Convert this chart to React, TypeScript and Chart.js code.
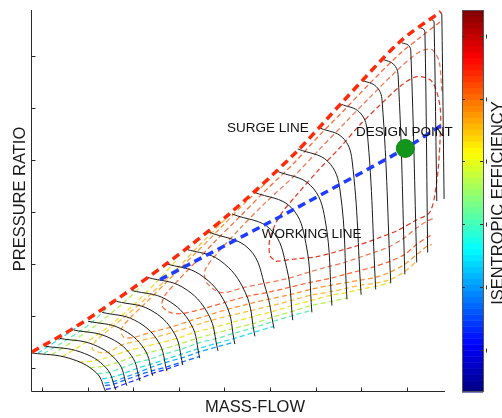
import React, { useEffect, useRef } from "react";
import { Chart, registerables } from "chart.js";

Chart.register(...registerables);

// ---------- axes ----------
const massFlowTicks = [1, 2, 3, 4, 5, 6, 7, 8, 9];
const pressureRatioTicks = [2, 3, 4, 5, 6, 7, 8];
const massFlowRange = [0.78, 9.84];
const pressureRatioRange = [1.54, 8.88];
const efficiencyTicks = [0.3, 0.4, 0.5, 0.6, 0.7, 0.8];
const efficiencyRange = [0.233, 0.841];

// ---------- main lines ----------
const surgeLine = [[0.78, 2.31], [1.68, 2.76], [2.64, 3.32], [3.74, 4.01], [5.08, 4.94], [6.53, 6.11], [7.6, 7.12], [8.85, 8.27], [9.75, 8.85]];
const workingLine = [[3.59, 3.7], [6.59, 5.08], [8.97, 6.22], [9.77, 6.67]];
const designPoint = [[8.97, 6.22]];

// ---------- speed lines ----------
const speedLines = [
  [[0.78, 2.29], [1.59, 2.19], [2.19, 1.91], [2.4, 1.54]],
  [[1.07, 2.42], [1.84, 2.31], [2.41, 2.0], [2.62, 1.58]],
  [[1.39, 2.57], [2.13, 2.45], [2.67, 2.11], [2.86, 1.66]],
  [[1.7, 2.73], [2.43, 2.6], [2.96, 2.24], [3.15, 1.75]],
  [[2.01, 2.9], [2.72, 2.76], [3.24, 2.37], [3.43, 1.85]],
  [[2.32, 3.07], [3.03, 2.92], [3.55, 2.51], [3.74, 1.94]],
  [[2.64, 3.28], [3.37, 3.12], [3.9, 2.67], [4.09, 2.06]],
  [[2.97, 3.49], [3.72, 3.32], [4.27, 2.84], [4.46, 2.19]],
  [[3.32, 3.74], [4.09, 3.55], [4.65, 3.03], [4.86, 2.33]],
  [[3.7, 4.01], [4.46, 3.8], [5.03, 3.23], [5.23, 2.46]],
  [[4.14, 4.29], [4.9, 4.07], [5.46, 3.45], [5.67, 2.61]],
  [[4.64, 4.62], [5.54, 4.29], [5.91, 3.51], [6.09, 2.76]],
  [[5.17, 4.96], [6.02, 4.66], [6.37, 3.91], [6.5, 2.92]],
  [[5.65, 5.38], [6.46, 5.09], [6.79, 4.39], [6.92, 3.07]],
  [[6.13, 5.79], [6.89, 5.51], [7.21, 4.85], [7.36, 3.2]],
  [[6.61, 6.21], [7.27, 5.97], [7.54, 5.4], [7.69, 3.32]],
  [[7.1, 6.61], [7.59, 6.43], [7.8, 6.0], [8.0, 3.41]],
  [[7.56, 7.07], [7.96, 6.92], [8.13, 6.57], [8.32, 3.51]],
  [[8.02, 7.53], [8.33, 7.41], [8.46, 7.14], [8.65, 3.63]],
  [[8.48, 7.93], [8.71, 7.84], [8.81, 7.64], [8.96, 3.8]],
  [[8.89, 8.25], [9.04, 8.2], [9.09, 8.08], [9.22, 4.03]],
  [[9.29, 8.54], [9.37, 8.51], [9.4, 8.44], [9.46, 4.22]],
  [[9.55, 8.69], [9.58, 8.68], [9.6, 8.65], [9.66, 5.21]],
  [[9.75, 8.83], [9.76, 8.82], [9.77, 8.8], [9.82, 5.25]],
];

// ---------- isentropic efficiency contours ----------
const effBlue = [[2.4, 1.59], [2.62, 1.63], [2.86, 1.71], [3.15, 1.8], [3.43, 1.9], [3.74, 1.98], [4.09, 2.09]];
const effBlue2 = [[2.38, 1.66], [2.6, 1.7], [2.85, 1.78], [3.14, 1.87], [3.42, 1.95], [3.73, 2.02], [4.08, 2.12], [4.45, 2.22]];
const effAzure = [[2.37, 1.71], [2.6, 1.75], [2.84, 1.83], [3.13, 1.92], [3.41, 2.02], [3.72, 2.11], [4.08, 2.2], [4.45, 2.31], [4.85, 2.41], [5.22, 2.5]];
const effCyanLow = [[2.32, 1.79], [2.56, 1.83], [2.81, 1.9], [3.11, 2.0], [3.41, 2.08], [3.72, 2.17], [4.07, 2.27], [4.45, 2.38], [4.85, 2.48], [5.22, 2.57], [5.66, 2.69], [6.08, 2.8]];
const effCyanHigh = [[0.91, 2.29], [1.39, 2.56], [1.83, 2.83]];
const effAquaLow = [[2.22, 1.89], [2.49, 1.92], [2.75, 2.0], [3.05, 2.1], [3.36, 2.17], [3.68, 2.27], [4.05, 2.36], [4.43, 2.48], [4.84, 2.57], [5.22, 2.67], [5.66, 2.78], [6.08, 2.9], [6.5, 3.01], [6.92, 3.11]];
const effAquaHigh = [[1.04, 2.28], [1.5, 2.52], [2.01, 2.82], [2.45, 3.17]];
const effLimeLow = [[2.05, 2.0], [2.37, 2.04], [2.67, 2.11], [2.98, 2.21], [3.3, 2.29], [3.64, 2.36], [4.01, 2.46], [4.4, 2.57], [4.8, 2.67], [5.2, 2.76], [5.65, 2.86], [6.07, 2.98], [6.49, 3.09], [6.91, 3.2], [7.35, 3.28], [7.69, 3.35]];
const effLimeHigh = [[1.22, 2.26], [1.72, 2.54], [2.27, 2.88], [2.82, 3.28], [3.19, 3.59]];
const effYellowLow = [[1.81, 2.11], [2.21, 2.15], [2.54, 2.23], [2.87, 2.33], [3.21, 2.4], [3.57, 2.48], [3.96, 2.57], [4.36, 2.69], [4.77, 2.78], [5.18, 2.88], [5.64, 2.99], [6.07, 3.09], [6.49, 3.2], [6.91, 3.3], [7.35, 3.4], [7.68, 3.45], [7.98, 3.51], [8.31, 3.57], [8.65, 3.64]];
const effYellowHigh = [[1.44, 2.22], [1.94, 2.48], [2.49, 2.82], [3.04, 3.24], [3.54, 3.68], [3.98, 4.1]];
const effLightOrange = [[5.01, 4.85], [4.46, 4.37], [3.92, 3.87], [3.37, 3.41], [2.82, 2.99], [2.43, 2.71], [2.16, 2.5], [2.1, 2.38], [2.21, 2.31], [2.45, 2.3], [2.73, 2.44], [3.11, 2.52], [3.48, 2.59], [3.88, 2.69], [4.29, 2.8], [4.72, 2.92], [5.13, 3.01], [5.61, 3.11], [6.04, 3.2], [6.48, 3.3], [6.9, 3.4], [7.34, 3.47], [7.67, 3.53], [7.97, 3.59], [8.3, 3.63], [8.63, 3.7], [8.95, 3.85], [9.22, 4.05]];
const effOrange = [[6.0, 5.63], [5.45, 5.17], [4.9, 4.68], [4.36, 4.2], [3.81, 3.72], [3.26, 3.24], [2.93, 2.96], [2.73, 2.73], [2.8, 2.59], [3.02, 2.59], [3.39, 2.69], [3.81, 2.78], [4.22, 2.9], [4.66, 3.02], [5.08, 3.13], [5.56, 3.24], [5.96, 3.32], [6.44, 3.41], [6.88, 3.51], [7.32, 3.59], [7.67, 3.64], [7.97, 3.69], [8.3, 3.74], [8.63, 3.84], [8.95, 3.99], [9.22, 4.18], [9.46, 4.35], [9.55, 4.37]];
const effOrangeRed = [[9.73, 8.65], [9.29, 8.35], [8.85, 8.04], [8.19, 7.47], [7.6, 6.93], [7.05, 6.44], [6.53, 5.94], [5.89, 5.4], [5.34, 4.91], [4.79, 4.43], [4.36, 4.03], [3.98, 3.68], [3.7, 3.4], [3.63, 3.2], [3.81, 3.07], [4.09, 3.05], [4.57, 3.15], [5.01, 3.26], [5.5, 3.38], [5.93, 3.45], [6.42, 3.55], [6.86, 3.64], [7.31, 3.72], [7.65, 3.8], [7.96, 3.87], [8.3, 3.95], [8.63, 4.05], [8.95, 4.18], [9.21, 4.37], [9.46, 4.52], [9.57, 4.56]];
const effSalmon = [[9.77, 7.32], [9.71, 7.89], [9.55, 8.12], [9.29, 8.08], [8.85, 7.77], [8.19, 7.2], [7.6, 6.67], [7.05, 6.17], [6.53, 5.69], [5.89, 5.17], [5.34, 4.68], [4.86, 4.22], [4.57, 3.87], [4.62, 3.63], [4.93, 3.45], [5.43, 3.55], [5.89, 3.63], [6.39, 3.72], [6.84, 3.84], [7.29, 3.95], [7.64, 4.03], [7.94, 4.12], [8.28, 4.22], [8.61, 4.33], [8.93, 4.49], [9.2, 4.68], [9.46, 4.83], [9.57, 4.87]];
const effRed = [[6.13, 4.05], [6.59, 4.1], [7.03, 4.14], [7.47, 4.24], [7.91, 4.35], [8.35, 4.49], [8.79, 4.64], [9.18, 4.83], [9.51, 5.0], [9.66, 5.59], [9.73, 6.36], [9.73, 7.03], [9.55, 7.51], [9.22, 7.6], [8.85, 7.41], [8.41, 7.05], [7.97, 6.67], [7.54, 6.24], [7.05, 5.79], [6.57, 5.31], [6.22, 4.93], [6.0, 4.49], [6.0, 4.16], [6.13, 4.05]];

const contours = [effBlue, effBlue2, effAzure, effCyanLow, effCyanHigh, effAquaLow, effAquaHigh, effLimeLow, effLimeHigh, effYellowLow, effYellowHigh, effLightOrange, effOrange, effOrangeRed, effSalmon, effRed];
const contourColors = ["#1a2cff", "#0a64ff", "#10a4ff", "#20dcf0", "#20dcf0", "#5cf0b4", "#5cf0b4", "#b4f050", "#b4f050", "#f4e024", "#f4e024", "#ffbc3a", "#ff922e", "#ff6434", "#f27858", "#e03c28"];

// ---------- annotations ----------
const labelTexts = ["SURGE LINE", "DESIGN POINT", "WORKING LINE"];
const labelX = [5.06, 7.89, 5.82];
const labelY = [6.53, 6.46, 4.49];

const FONT = '"Liberation Sans", Arial, Helvetica, sans-serif';
const toXY = (arr: number[][]) => arr.map(([x, y]) => ({ x, y }));

const jet = (v: number) => {
  const c = (t: number) => Math.round(255 * Math.max(0, Math.min(1, 1.5 - Math.abs(4 * v - t))));
  return `rgb(${c(3)},${c(2)},${c(1)})`;
};

const overlay = {
  id: "overlay",
  afterDraw(chart: any) {
    const { ctx, chartArea: ca, scales } = chart;
    const xs = scales.x;
    const ys = scales.y;
    ctx.save();
    // axes
    ctx.strokeStyle = "#2a2a2a";
    ctx.lineWidth = 1;
    ctx.setLineDash([]);
    ctx.beginPath();
    ctx.moveTo(ca.left - 0.5, ca.top);
    ctx.lineTo(ca.left - 0.5, ca.bottom - 0.5);
    ctx.lineTo(ca.right, ca.bottom - 0.5);
    for (const v of massFlowTicks) {
      const px = Math.round(xs.getPixelForValue(v)) + 0.5;
      ctx.moveTo(px, ca.bottom - 0.5);
      ctx.lineTo(px, ca.bottom - 4.5);
    }
    for (const v of pressureRatioTicks) {
      const py = Math.round(ys.getPixelForValue(v)) + 0.5;
      ctx.moveTo(ca.left - 0.5, py);
      ctx.lineTo(ca.left + 3.5, py);
    }
    ctx.stroke();

    // annotations
    ctx.fillStyle = "#111";
    ctx.font = `13.5px ${FONT}`;
    ctx.textAlign = "left";
    ctx.textBaseline = "alphabetic";
    labelTexts.forEach((t, i) => {
      ctx.fillText(t, xs.getPixelForValue(labelX[i]), ys.getPixelForValue(labelY[i]));
    });

    // axis titles
    ctx.fillStyle = "#1a1a1a";
    ctx.font = `16.5px ${FONT}`;
    ctx.textAlign = "center";
    ctx.fillText("MASS-FLOW", 255, 411.5);
    ctx.save();
    ctx.translate(25, 199);
    ctx.rotate(-Math.PI / 2);
    ctx.fillText("PRESSURE RATIO", 0, 0);
    ctx.restore();

    // colorbar
    const cbL = 462, cbR = 483, cbT = ca.top, cbB = ca.bottom;
    const n = 64;
    const h = (cbB - cbT) / n;
    for (let i = 0; i < n; i++) {
      ctx.fillStyle = jet((i + 0.5) / n);
      ctx.fillRect(cbL, cbB - (i + 1) * h, cbR - cbL, h + 0.5);
    }
    ctx.strokeStyle = "#555";
    ctx.strokeRect(cbL + 0.5, cbT + 0.5, cbR - cbL, cbB - cbT - 1);
    ctx.beginPath();
    ctx.strokeStyle = "#333";
    for (const v of efficiencyTicks) {
      const py = Math.round(cbB - ((v - efficiencyRange[0]) / (efficiencyRange[1] - efficiencyRange[0])) * (cbB - cbT)) + 0.5;
      ctx.moveTo(cbL, py);
      ctx.lineTo(cbL + 3, py);
      ctx.moveTo(cbR, py);
      ctx.lineTo(cbR - 3, py);
      ctx.moveTo(486.5, py - 2);
      ctx.lineTo(486.5, py + 2);
    }
    ctx.stroke();

    ctx.fillStyle = "#1a1a1a";
    ctx.font = `16.5px ${FONT}`;
    ctx.textAlign = "center";
    ctx.save();
    ctx.translate(503, 203);
    ctx.rotate(-Math.PI / 2);
    ctx.fillText("ISENTROPIC EFFICIENCY", 0, 0);
    ctx.restore();

    ctx.restore();
  },
};

export default function App() {
  const ref = useRef<HTMLCanvasElement>(null);
  useEffect(() => {
    const datasets: any[] = [];
    contours.forEach((c, i) => {
      datasets.push({
        data: toXY(c),
        showLine: true,
        borderColor: contourColors[i],
        borderWidth: 1.25,
        borderDash: [5, 3],
        pointRadius: 0,
        tension: 0.3,
        fill: false,
        order: 3,
      });
    });
    speedLines.forEach((s) => {
      datasets.push({
        data: toXY(s),
        showLine: true,
        borderColor: "#1c1c1c",
        borderWidth: 1,
        pointRadius: 0,
        tension: 0.4,
        fill: false,
        order: 2,
      });
    });
    datasets.push({
      data: toXY(surgeLine),
      showLine: true,
      borderColor: "#ff2a0a",
      borderWidth: 3.5,
      borderDash: [8, 5],
      pointRadius: 0,
      tension: 0.3,
      fill: false,
      order: 1,
    });
    datasets.push({
      data: toXY(workingLine),
      showLine: true,
      borderColor: "#1f3cff",
      borderWidth: 3.5,
      borderDash: [8, 5],
      pointRadius: 0,
      tension: 0.2,
      fill: false,
      order: 1,
    });
    datasets.push({
      data: toXY(designPoint),
      showLine: false,
      pointRadius: 9,
      pointBackgroundColor: "#13941a",
      pointBorderColor: "#0f8a15",
      pointBorderWidth: 1,
      order: 0,
    });

    const chart = new Chart(ref.current as HTMLCanvasElement, {
      type: "scatter",
      data: { datasets },
      options: {
        animation: false,
        responsive: false,
        devicePixelRatio: 1,
        events: [],
        layout: { padding: { left: 32, right: 57, top: 8, bottom: 26 } },
        plugins: { legend: { display: false }, tooltip: { enabled: false } },
        scales: {
          x: { type: "linear", min: massFlowRange[0], max: massFlowRange[1], display: false },
          y: { type: "linear", min: pressureRatioRange[0], max: pressureRatioRange[1], display: false },
        },
      },
      plugins: [overlay],
    } as any);
    return () => chart.destroy();
  }, []);

  return (
    <div style={{ position: "absolute", left: 0, top: 0, width: 502, height: 418, background: "#fff" }}>
      <canvas ref={ref} width={502} height={418} style={{ display: "block", width: 502, height: 418 }} />
    </div>
  );
}
